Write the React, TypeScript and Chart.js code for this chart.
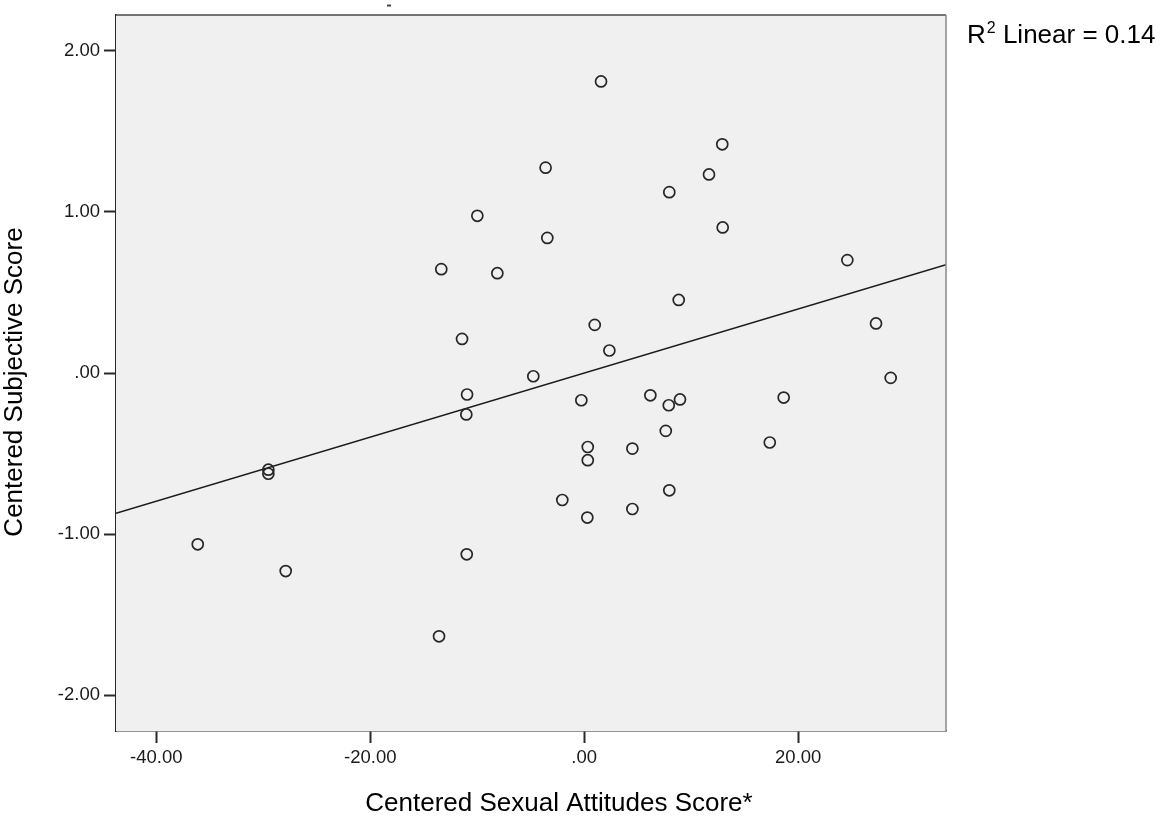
import React, { useEffect, useRef } from "react";
import { Chart, registerables } from "chart.js";

Chart.register(...registerables);

// Centered Sexual Attitudes Score (x) and Centered Subjective Score (y)
const attitudeScores: number[] = [
  1.57, 12.9, -3.61, 11.66, 7.95, -9.99, -3.45, 12.94, -13.36, -8.12,
  24.59, 8.83, 27.27, 0.98, -11.42, 2.35, -4.76, 28.64, -10.95, 6.18,
  -0.27, 7.9, 8.95, 18.64, -11.02, 17.34, 7.62, 0.33, 4.5, 0.33,
  -29.52, -29.52, -2.05, 7.95, 4.5, 0.29, -36.12, -27.9, -10.98, -13.57,
];
const subjectiveScores: number[] = [
  1.81, 1.42, 1.275, 1.233, 1.123, 0.976, 0.839, 0.904, 0.645, 0.62,
  0.701, 0.454, 0.308, 0.299, 0.212, 0.14, -0.02, -0.03, -0.133, -0.138,
  -0.169, -0.2, -0.164, -0.152, -0.257, -0.431, -0.359, -0.459, -0.469, -0.541,
  -0.6, -0.625, -0.788, -0.728, -0.844, -0.897, -1.063, -1.229, -1.125, -1.634,
];

// Linear fit (R^2 = 0.14)
const fitSlope = 0.0199;
const fitIntercept = 0.0;
const rSquared = "0.14";

const xTicks: number[] = [-40, -20, 0, 20];
const yTicks: number[] = [-2, -1, 0, 1, 2];
const xRange: [number, number] = [-43.76, 33.81];
const yRange: [number, number] = [-2.222, 2.222];

const xTitle = "Centered Sexual Attitudes Score*";
const yTitle = "Centered Subjective Score";

const FONT = '"Liberation Sans", Arial, Helvetica, sans-serif';

const fmt = (v: number) => {
  if (v === 0) return ".00";
  return v.toFixed(2);
};

export default function App() {
  const canvasRef = useRef<HTMLCanvasElement | null>(null);

  useEffect(() => {
    const canvas = canvasRef.current;
    if (!canvas) return;

    const points = attitudeScores.map((x, i) => ({ x, y: subjectiveScores[i] }));
    const fitLine = xRange.map((x) => ({ x, y: fitIntercept + fitSlope * x }));

    const framePlugin = {
      id: "frame",
      beforeDatasetsDraw(chart: any) {
        const { ctx, chartArea: a } = chart;
        ctx.save();
        ctx.fillStyle = "#f0f0f0";
        ctx.fillRect(a.left, a.top, a.right - a.left, a.bottom - a.top);
        ctx.restore();
      },
      afterDraw(chart: any) {
        const { ctx, chartArea: a } = chart;
        ctx.save();
        // top and right frame
        ctx.lineWidth = 1.5;
        ctx.strokeStyle = "#4a4a4a";
        ctx.beginPath();
        ctx.moveTo(a.left, a.top);
        ctx.lineTo(a.right, a.top);
        ctx.stroke();
        ctx.strokeStyle = "#8a8a8a";
        ctx.beginPath();
        ctx.moveTo(a.right, a.top);
        ctx.lineTo(a.right, a.bottom);
        ctx.stroke();

        // small stray mark above the frame
        ctx.strokeStyle = "#444";
        ctx.lineWidth = 2;
        ctx.beginPath();
        ctx.moveTo(387, 5.5);
        ctx.lineTo(391, 5.5);
        ctx.stroke();

        // axis titles
        ctx.fillStyle = "#000";
        ctx.font = `26px ${FONT}`;
        ctx.textAlign = "center";
        ctx.textBaseline = "middle";
        ctx.fillText(xTitle, 559, 804);
        ctx.save();
        ctx.translate(15, 382);
        ctx.rotate(-Math.PI / 2);
        ctx.fillText(yTitle, 0, 0);
        ctx.restore();

        // R^2 annotation
        ctx.textAlign = "left";
        ctx.textBaseline = "alphabetic";
        let x = 967;
        const base = 43;
        ctx.font = `26px ${FONT}`;
        ctx.fillText("R", x, base);
        x += ctx.measureText("R").width;
        ctx.font = `16px ${FONT}`;
        ctx.fillText("2", x + 1, base - 10);
        x += ctx.measureText("2").width + 1;
        ctx.font = `26px ${FONT}`;
        ctx.fillText(" Linear = " + rSquared, x, base);
        ctx.restore();
      },
    };

    const chart = new Chart(canvas, {
      type: "scatter",
      data: {
        datasets: [
          {
            type: "line",
            label: "Fit",
            data: fitLine,
            borderColor: "#1a1a1a",
            borderWidth: 1.5,
            pointRadius: 0,
            fill: false,
            tension: 0,
            order: 2,
          } as any,
          {
            label: "Cases",
            data: points,
            pointStyle: "circle",
            pointRadius: 5.5,
            pointBorderWidth: 1.7,
            pointBorderColor: "#262626",
            pointBackgroundColor: "rgba(0,0,0,0)",
            order: 1,
          },
        ],
      },
      options: {
        responsive: false,
        animation: false,
        events: [],
        layout: { padding: { left: 0, top: 15, right: 217, bottom: 0 } },
        plugins: {
          legend: { display: false },
          tooltip: { enabled: false },
          title: { display: false },
        },
        scales: {
          x: {
            type: "linear",
            min: xRange[0],
            max: xRange[1],
            afterBuildTicks: (scale: any) => {
              scale.ticks = xTicks.map((value) => ({ value }));
            },
            afterFit: (scale: any) => {
              scale.height = 90;
            },
            grid: {
              display: true,
              drawOnChartArea: false,
              drawTicks: true,
              tickLength: 12,
              tickColor: "#2a2a2a",
              tickWidth: 2,
            },
            border: { display: true, color: "#2a2a2a", width: 1.5 },
            ticks: {
              callback: (v: any) => fmt(Number(v)),
              color: "#1a1a1a",
              font: { family: FONT, size: 18.5 },
              padding: 4,
              maxRotation: 0,
              autoSkip: false,
            },
          },
          y: {
            type: "linear",
            min: yRange[0],
            max: yRange[1],
            afterBuildTicks: (scale: any) => {
              scale.ticks = yTicks.map((value) => ({ value }));
            },
            afterFit: (scale: any) => {
              scale.width = 116;
            },
            grid: {
              display: true,
              drawOnChartArea: false,
              drawTicks: true,
              tickLength: 12,
              tickColor: "#2a2a2a",
              tickWidth: 2,
            },
            border: { display: true, color: "#2a2a2a", width: 1.5 },
            ticks: {
              callback: (v: any) => fmt(Number(v)),
              color: "#1a1a1a",
              font: { family: FONT, size: 18.5 },
              padding: 4,
              autoSkip: false,
            },
          },
        },
      },
      plugins: [framePlugin],
    } as any);

    return () => chart.destroy();
  }, []);

  return (
    <div style={{ position: "fixed", left: 0, top: 0, width: 1163, height: 821, background: "#fff" }}>
      <canvas ref={canvasRef} width={1163} height={821} style={{ display: "block", width: 1163, height: 821 }} />
    </div>
  );
}
